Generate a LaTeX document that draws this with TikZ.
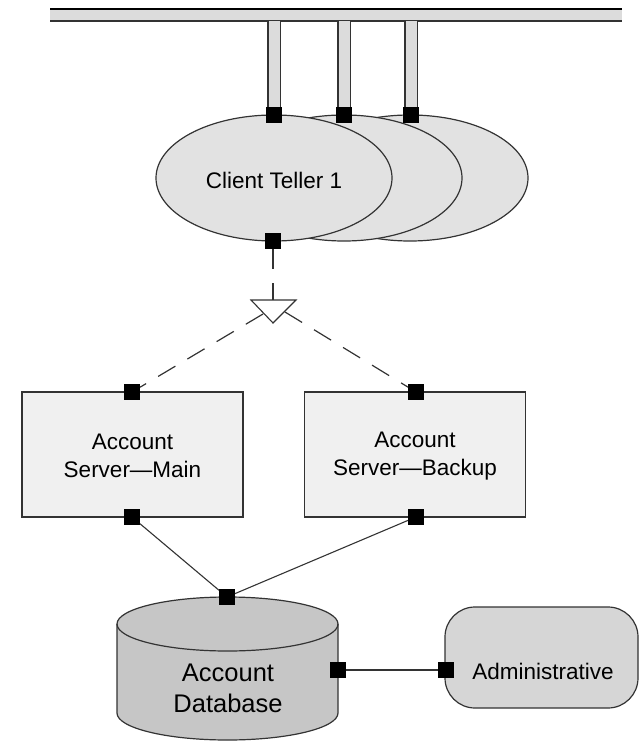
\documentclass[tikz,border=0pt]{standalone}
\usepackage{fontspec}
\setmainfont{Liberation Sans}
\usetikzlibrary{shapes.geometric}

\definecolor{linegray}{HTML}{333333}
\definecolor{busfill}{HTML}{DCDCDC}
\definecolor{tellerfill}{HTML}{E2E2E2}
\definecolor{serverfill}{HTML}{F0F0F0}
\definecolor{dbfill}{HTML}{C6C6C6}
\definecolor{adminfill}{HTML}{D6D6D6}

\tikzset{
  every node/.style={inner sep=0pt, outer sep=0pt},
  port/.style={rectangle, fill=black, minimum size=16pt},
  teller/.style={ellipse, draw=linegray, line width=1.2pt, fill=tellerfill,
    minimum width=236pt, minimum height=126pt},
  server/.style={rectangle, draw=linegray, line width=1.2pt, fill=serverfill,
    minimum width=221pt, minimum height=125pt},
  admin/.style={rectangle, rounded corners=30pt, draw=linegray, line width=1.2pt,
    fill=adminfill, minimum width=193pt, minimum height=101pt},
  label/.style={font=\fontsize{22.5}{28}\selectfont, align=center},
  stub/.style={line width=1.2pt, draw=linegray, double=busfill, double distance=11pt},
  link/.style={line width=1.1pt, draw=linegray},
  dashlink/.style={line width=1.2pt, draw=linegray, dash pattern=on 20pt off 14pt},
}

\begin{document}
\begin{tikzpicture}[x=1pt, y=-1pt]
\useasboundingbox (0,0) rectangle (644,743);

% network bus
\fill[busfill] (50,9) rectangle (622,21);
\draw[line width=1.8pt, black] (50,9) -- (622,9);
\draw[line width=1.4pt, linegray] (50,21) -- (622,21);
\coordinate (bus) at (336,21);

% client tellers, back to front
\node[teller] (t3) at (410,178) {};
\node[teller] (t2) at (344,178) {};
\node[teller] (t1) at (274,178) {};
\node[label] at (274,180) {Client Teller 1};

% stubs to the bus and their ports
\node[port] (tp1) at (274,115) {};
\node[port] (tp2) at (344,115) {};
\node[port] (tp3) at (411,115) {};
\draw[stub] (tp1 |- bus) -- (tp1.north);
\draw[stub] (tp2 |- bus) -- (tp2.north);
\draw[stub] (tp3 |- bus) -- (tp3.north);
\node[port] at (274,115) {};
\node[port] at (344,115) {};
\node[port] at (411,115) {};

\node[port] (tbot) at (273,241) {};

% fail-over selector
\coordinate (tritop) at (273,300);
\coordinate (trileft) at (263,314);
\coordinate (triright) at (285,312);
\draw[line width=1.1pt, linegray, fill=white] (251,300) -- (296,300) -- (273,323) -- cycle;

% servers
\node[server] (main) at (132.5,454.5) {};
\node[label] at (132.5,456) {Account\\Server\textemdash Main};
\node[server] (backup) at (415,454.5) {};
\node[label] at (415,456) {Account\\Server\textemdash Backup};

\node[port] (mtop) at (132,392) {};
\node[port] (mbot) at (132,517) {};
\node[port] (btop) at (416,392) {};
\node[port] (bbot) at (416,517) {};

% dashed links through the selector
\draw[dashlink] (tbot) -- (tritop);
\draw[dashlink] (trileft) -- (mtop);
\draw[dashlink] (triright) -- (btop);

% database cylinder
\fill[dbfill, draw=linegray, line width=1.2pt]
  (117,624) -- (117,713) arc[start angle=180, end angle=0, x radius=110.5, y radius=27]
  -- (338,624) arc[start angle=0, end angle=-180, x radius=110.5, y radius=27] -- cycle;
\draw[linegray, line width=1.2pt] (117,624) arc[start angle=180, end angle=0, x radius=110.5, y radius=27];
\node[label, font=\fontsize{25.5}{31}\selectfont] (db) at (228,688) {Account\\Database};
\node[port] (dbtop) at (227,597) {};
\node[port] (dbright) at (338,670) {};

% administrative node
\node[admin] (adm) at (541.5,657.5) {};
\node[label] at (543,671) {Administrative};
\node[port] (admport) at (446,670) {};

% solid links
\draw[link] (mbot) -- (dbtop);
\draw[link] (bbot) -- (dbtop);
\draw[link] (dbright) -- (admport);
\end{tikzpicture}
\end{document}
